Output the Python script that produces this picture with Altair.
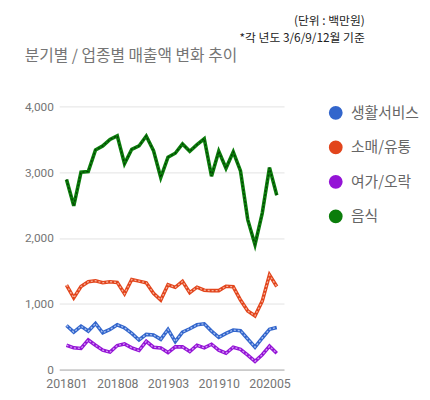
import altair as alt
import pandas as pd

months = ["201801", "201802", "201803", "201804", "201805", "201806", "201807", "201808",
          "201809", "201810", "201811", "201812", "201901", "201902", "201903", "201904",
          "201905", "201906", "201907", "201908", "201909", "201910", "201911", "201912",
          "202001", "202002", "202003", "202004", "202005", "202006"]
tick_labels = ["201801", "201808", "201903", "201910", "202005"]

series = ["생활서비스", "소매/유통", "여가/오락", "음식"]
colors = ["#3366cc", "#e2451c", "#9414d6", "#0b7d0b"]
pattern_colors = ["#a9c0f0", "#f6b09b", "#d49af5", "#053d05"]

living = [670, 570, 660, 585, 700, 560, 610, 680, 635, 550, 450, 535, 525, 460, 610,
          425, 570, 620, 680, 695, 585, 490, 550, 600, 590, 465, 340, 480, 612, 640]
retail = [1285, 1090, 1262, 1335, 1350, 1320, 1335, 1325, 1152, 1369, 1344, 1320, 1160, 1057, 1289,
          1250, 1340, 1169, 1252, 1207, 1200, 1200, 1265, 1258, 1057, 890, 817, 1040, 1439, 1262]
leisure = [370, 330, 320, 450, 370, 295, 265, 365, 390, 330, 290, 430, 340, 330, 258,
           345, 345, 275, 370, 330, 385, 295, 248, 340, 308, 220, 125, 225, 355, 248]
food = [2889, 2489, 2999, 3010, 3339, 3399, 3498, 3553, 3129, 3348, 3399, 3549, 3328, 2919, 3228,
        3288, 3429, 3318, 3418, 3508, 2939, 3318, 3059, 3309, 3019, 2279, 1899, 2379, 3069, 2649]

title_text = "분기별 / 업종별 매출액 변화 추이"
unit_text = "(단위 : 백만원)"
note_text = "*각 년도 3/6/9/12월 기준"

rows = []
for name, vals in zip(series, [living, retail, leisure, food]):
    for m, v in zip(months, vals):
        rows.append({"month": m, "value": v, "series": name})
df = pd.DataFrame(rows)

KR = "Noto Sans CJK KR"

x_enc = alt.X("month:O", sort=months,
              scale=alt.Scale(type="point", padding=1.79),
              axis=alt.Axis(title=None, values=tick_labels, labelAngle=0, ticks=False,
                            grid=False, domain=True, domainColor="#b0b0b0",
                            labelFont="Roboto", labelFontSize=12.5, labelColor="#757575",
                            labelPadding=8))
y_enc = alt.Y("value:Q", scale=alt.Scale(domain=[0, 4000]),
              axis=alt.Axis(title=None, values=[0, 1000, 2000, 3000, 4000], format=",.0f",
                            ticks=False, domain=False, grid=True, gridColor="#e3e3e3",
                            labelFont="Roboto", labelFontSize=12, labelColor="#757575",
                            labelPadding=6))

base_line = alt.Chart(df).mark_line(strokeWidth=3.6).encode(
    x=x_enc, y=y_enc,
    color=alt.Color("series:N", sort=series,
                    scale=alt.Scale(domain=series, range=colors),
                    legend=alt.Legend(title=None, orient="none", legendX=273, legendY=-1,
                                      symbolType="circle", symbolSize=49, symbolStrokeWidth=7,
                                      labelFont=KR, labelFontSize=15, labelColor="#666666",
                                      labelOffset=8, rowPadding=0, padding=0)),
)

pattern_line = alt.Chart(df).mark_line(strokeWidth=1.3, strokeDash=[2, 2]).encode(
    x=x_enc, y=y_enc,
    color=alt.Color("series:N", sort=series,
                    scale=alt.Scale(domain=series, range=pattern_colors),
                    legend=None),
)

title = alt.Chart(pd.DataFrame({"t": [title_text]})).mark_text(
    align="left", baseline="alphabetic", font=KR, fontSize=16, color="#757575"
).encode(x=alt.value(-35), y=alt.value(-46), text="t:N")

unit = alt.Chart(pd.DataFrame({"t": [unit_text]})).mark_text(
    align="right", baseline="alphabetic", font=KR, fontSize=12, color="#222222"
).encode(x=alt.value(310), y=alt.value(-83), text="t:N")

note = alt.Chart(pd.DataFrame({"t": [note_text]})).mark_text(
    align="right", baseline="alphabetic", font=KR, fontSize=12, color="#222222"
).encode(x=alt.value(310), y=alt.value(-65), text="t:N")

chart = alt.layer(base_line, pattern_line, title, unit, note).resolve_scale(
    color="independent"
).properties(
    width=228, height=267,
    autosize=alt.AutoSizeParams(type="none"),
    padding={"left": 52, "top": 97, "right": 140, "bottom": 24},
).configure_view(stroke=None)

chart.save("out.html", embed_options={"renderer": "svg", "actions": False})
